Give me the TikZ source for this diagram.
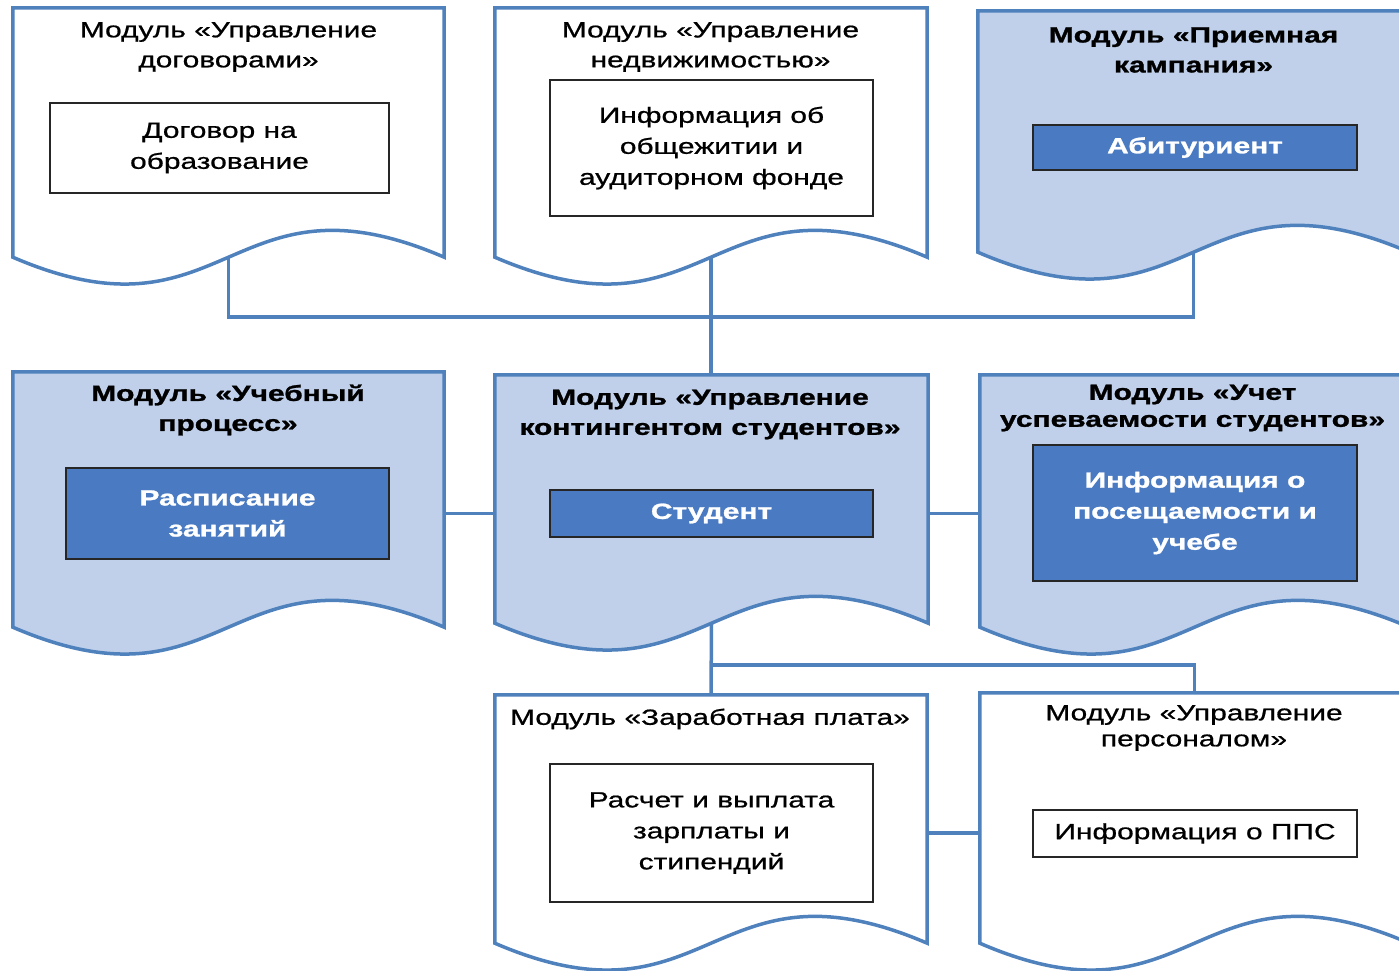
\documentclass[tikz,border=0pt]{standalone}
\usepackage{fontspec}
\setmainfont{Liberation Sans}[FakeStretch=1.36, UprightFeatures={FakeBold=0.8}, BoldFeatures={FakeBold=1.2}]
\usetikzlibrary{calc,fit}
\definecolor{edgeblue}{HTML}{4F81BD}
\definecolor{lightblue}{HTML}{C0D0EA}
\definecolor{darkblue}{HTML}{4A7BC2}
\tikzset{
  modarea/.style={inner sep=0pt, draw=none},
  docw/.style={draw=edgeblue, line width=3.5pt, fill=white},
  docb/.style={draw=edgeblue, line width=3.5pt, fill=lightblue},
  conn/.style={draw=edgeblue, line width=3.5pt},
  ttl/.style={align=center, font=\fontsize{22}{30}\selectfont, inner sep=0pt},
  ttlb/.style={align=center, font=\fontsize{22}{30}\selectfont\bfseries, inner sep=0pt},
  wbox/.style={draw=black!85, line width=1.3pt, fill=white, align=center, font=\fontsize{22}{31}\selectfont, inner sep=0pt},
  bbox/.style={draw=black!85, line width=1.3pt, fill=darkblue, text=white, align=center, font=\fontsize{22}{31}\selectfont\bfseries, inner sep=0pt},
}
\newcommand\docpath[2]{\path[#2] (#1.north west) -- (#1.north east) -- (#1.south east)
  .. controls ($(#1.south)+(0,-93)$) and ($(#1.south)+(0,93)$) .. (#1.south west) -- cycle;}
\begin{document}
\begin{tikzpicture}[x=1pt,y=-1pt]
\useasboundingbox (0,0) rectangle (1399,970);
\clip (0,0) rectangle (1399,970);
% module areas
\node[modarea, fit={(13,8) (444,257)}] (m1) {};
\node[modarea, fit={(495,8) (927,257)}] (m2) {};
\node[modarea, fit={(978,11) (1409,252)}] (m3) {};
\node[modarea, fit={(13,372) (444,627)}] (m4) {};
\node[modarea, fit={(495,375) (928,623)}] (m5) {};
\node[modarea, fit={(980,375) (1409,627)}] (m6) {};
\node[modarea, fit={(495,695) (927,943)}] (m8) {};
\node[modarea, fit={(980,693) (1409,943)}] (m9) {};
% document shapes
\docpath{m1}{docw}
\docpath{m2}{docw}
\docpath{m3}{docb}
\docpath{m4}{docb}
\docpath{m5}{docb}
\docpath{m6}{docb}
\docpath{m8}{docw}
\docpath{m9}{docw}
% titles
\node[ttl] (t1) at (228.5,47) {Модуль «Управление\\договорами»};
\node[ttl] (t2) at (710.5,47) {Модуль «Управление\\недвижимостью»};
\node[ttlb] (t3) at (1193.5,50) {Модуль «Приемная\\кампания»};
\node[ttlb] (t4) at (228,410) {Модуль «Учебный\\процесс»};
\node[ttlb] (t5) at (710,414.5) {Модуль «Управление\\контингентом студентов»};
\node[ttlb, font=\fontsize{22}{27}\selectfont\bfseries] (t6) at (1192.5,408) {Модуль «Учет\\успеваемости студентов»};
\node[ttl] (t8) at (710,719) {Модуль «Заработная плата»};
\node[ttl, font=\fontsize{22}{26}\selectfont] (t9) at (1194,728) {Модуль «Управление\\персоналом»};
% inner boxes
\node[wbox, minimum width=339, minimum height=90] (i1) at (219.5,148) {Договор на\\образование};
\node[wbox, minimum width=323, minimum height=136] (i2) at (711.5,148) {Информация об\\общежитии и\\аудиторном фонде};
\node[bbox, minimum width=324, minimum height=45] (i3) at (1195,147.5) {Абитуриент};
\node[bbox, minimum width=323, minimum height=91] (i4) at (227.5,513.5) {Расписание\\занятий};
\node[bbox, minimum width=323, minimum height=47] (i5) at (711.5,513.5) {Студент};
\node[bbox, minimum width=324, minimum height=136] (i6) at (1195,513) {Информация о\\посещаемости и\\учебе};
\node[wbox, minimum width=323, minimum height=138] (i8) at (711.5,833) {Расчет и выплата\\зарплаты и\\стипендий};
\node[wbox, minimum width=324, minimum height=47] (i9) at (1195,833.5) {Информация о ППС};
% connectors
\coordinate (bus1) at (711.5,317);
\coordinate (bus2) at (711.5,665);
\draw[conn] (m1.south) |- (bus1) -| (m3.south);
\draw[conn] (m2.south) -- (m2.south |- m5.north);
\draw[conn] (m4.east |- i5.center) -- (m5.west |- i5.center);
\draw[conn] (m5.east |- i5.center) -- (m6.west |- i5.center);
\draw[conn] (m5.south) -- (m8.north);
\draw[conn] (bus2) -| (m9.north);
\draw[conn] (m8.east |- i8.center) -- (m9.west |- i8.center);
\end{tikzpicture}
\end{document}
